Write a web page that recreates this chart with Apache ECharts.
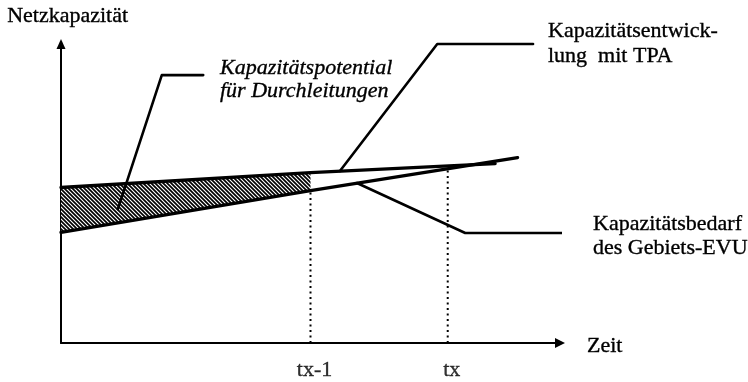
<!DOCTYPE html>
<html>
<head>
<meta charset="utf-8">
<script src="https://cdn.jsdelivr.net/npm/echarts@6/dist/echarts.min.js"></script>
<style>
  html, body { margin: 0; padding: 0; background: #fff; }
  #chart { width: 748px; height: 382px; }
</style>
</head>
<body>
<div id="chart"></div>
<script>
// Network capacity over time: development with third-party access (TPA)
// versus the incumbent utility's own capacity demand.
const capacityWithTPA = [[0, 52], [50, 57], [87, 60]];
const capacityDemand = [[0, 37], [50, 51], [91.5, 62]];

// Spare capacity available for transit, up to tx-1
const transitPotential = [[0, 52], [50, 57], [50, 51], [0, 37]];

// Points in time on the horizontal axis
const timeMarks = ['tx-1', 'tx'];
const timeMarkValues = [50, 77.5];
const timeMarkTops = [51, 58];

// Callout leader lines
const leaderPotential = [[11.4, 44.8], [20.2, 89.6], [28.5, 89.6]];
const leaderTPA = [[55.9, 57.5], [75.4, 100], [94.6, 100]];
const leaderDemand = [[59.3, 53.5], [81, 36.8], [104, 36.8]];

const INK = '#000';
const SERIF = '"Liberation Serif", "Times New Roman", serif';

// Diagonal hatching tile for the transit-potential area
function hatchTile() {
  const c = document.createElement('canvas');
  c.width = 4; c.height = 4;
  const g = c.getContext('2d');
  g.fillStyle = '#fff';
  g.fillRect(0, 0, 4, 4);
  g.strokeStyle = '#000';
  g.lineWidth = 1.7;
  g.beginPath();
  g.moveTo(-1, -1); g.lineTo(5, 5);
  g.moveTo(-1, 3); g.lineTo(1, 5);
  g.moveTo(3, -1); g.lineTo(5, 1);
  g.stroke();
  return c;
}
const hatch = hatchTile();

function solidLine(data, width) {
  return {
    type: 'line', data: data, symbol: 'none', clip: false, silent: true, z: 4,
    lineStyle: { color: INK, width: width, cap: 'round', join: 'round' }
  };
}

const dottedSeries = timeMarkValues.map((v, i) => ({
  type: 'line', data: [[v, 0], [v, timeMarkTops[i]]], symbol: 'none', silent: true, z: 2,
  lineStyle: { color: INK, width: 2, type: [2, 3.5] }
}));

// Slightly heavier glyphs, like the printed serif lettering
function textStyle(text, font, extra) {
  return Object.assign({ text: text, fill: INK, font: font, stroke: INK, lineWidth: 0.35 }, extra || {});
}

const chart = echarts.init(document.getElementById('chart'), null, { renderer: 'canvas' });

chart.setOption({
  animation: false,
  backgroundColor: '#fff',
  grid: { left: 61, right: 188, top: 44, bottom: 39 },
  xAxis: {
    type: 'value', min: 0, max: 100,
    axisLine: {
      show: true, onZero: false,
      symbol: ['none', 'triangle'], symbolSize: [10, 10],
      lineStyle: { color: INK, width: 2 }
    },
    axisTick: { show: false }, axisLabel: { show: false }, splitLine: { show: false }
  },
  yAxis: {
    type: 'value', min: 0, max: 100,
    axisLine: {
      show: true, onZero: false,
      symbol: ['none', 'triangle'], symbolSize: [9, 10],
      lineStyle: { color: INK, width: 2 }
    },
    axisTick: { show: false }, axisLabel: { show: false }, splitLine: { show: false }
  },
  series: [
    {
      type: 'custom', coordinateSystem: 'cartesian2d', silent: true, z: 1,
      data: [[0, 0]],
      renderItem: function (params, api) {
        return {
          type: 'polygon',
          shape: { points: transitPotential.map(p => api.coord(p)) },
          style: { fill: { image: hatch, repeat: 'repeat' }, stroke: null }
        };
      }
    },
    ...dottedSeries,
    solidLine(capacityWithTPA, 3.3),
    solidLine(capacityDemand, 3.3),
    solidLine(leaderPotential, 2.6),
    solidLine(leaderTPA, 2.6),
    solidLine(leaderDemand, 2.6),
    {
      type: 'scatter', silent: true, symbolSize: 0, z: 5,
      data: timeMarkValues.map((v, i) => ({ value: [v, 0], name: timeMarks[i] })),
      label: {
        show: true, formatter: '{b}', position: 'inside', offset: [4, 27],
        color: INK, fontFamily: SERIF, fontSize: 22,
        textBorderColor: INK, textBorderWidth: 0.35
      }
    }
  ],
  graphic: [
    { type: 'text', left: 7, top: 5, style: textStyle('Netzkapazität', '22px ' + SERIF) },
    { type: 'text', x: 587, y: 346, style: textStyle('Zeit', '22px ' + SERIF, { verticalAlign: 'middle' }) },
    { type: 'text', x: 220, y: 57, style: textStyle('Kapazitätspotential\nfür Durchleitungen', 'italic 22px ' + SERIF, { lineHeight: 23, verticalAlign: 'top' }) },
    { type: 'text', x: 548, y: 19, style: textStyle('Kapazitätsentwick-\nlung  mit TPA', '22px ' + SERIF, { lineHeight: 25, verticalAlign: 'top' }) },
    { type: 'text', x: 593, y: 212, style: textStyle('Kapazitätsbedarf\ndes Gebiets-EVU', '22px ' + SERIF, { lineHeight: 24, verticalAlign: 'top' }) }
  ]
});
</script>
</body>
</html>
